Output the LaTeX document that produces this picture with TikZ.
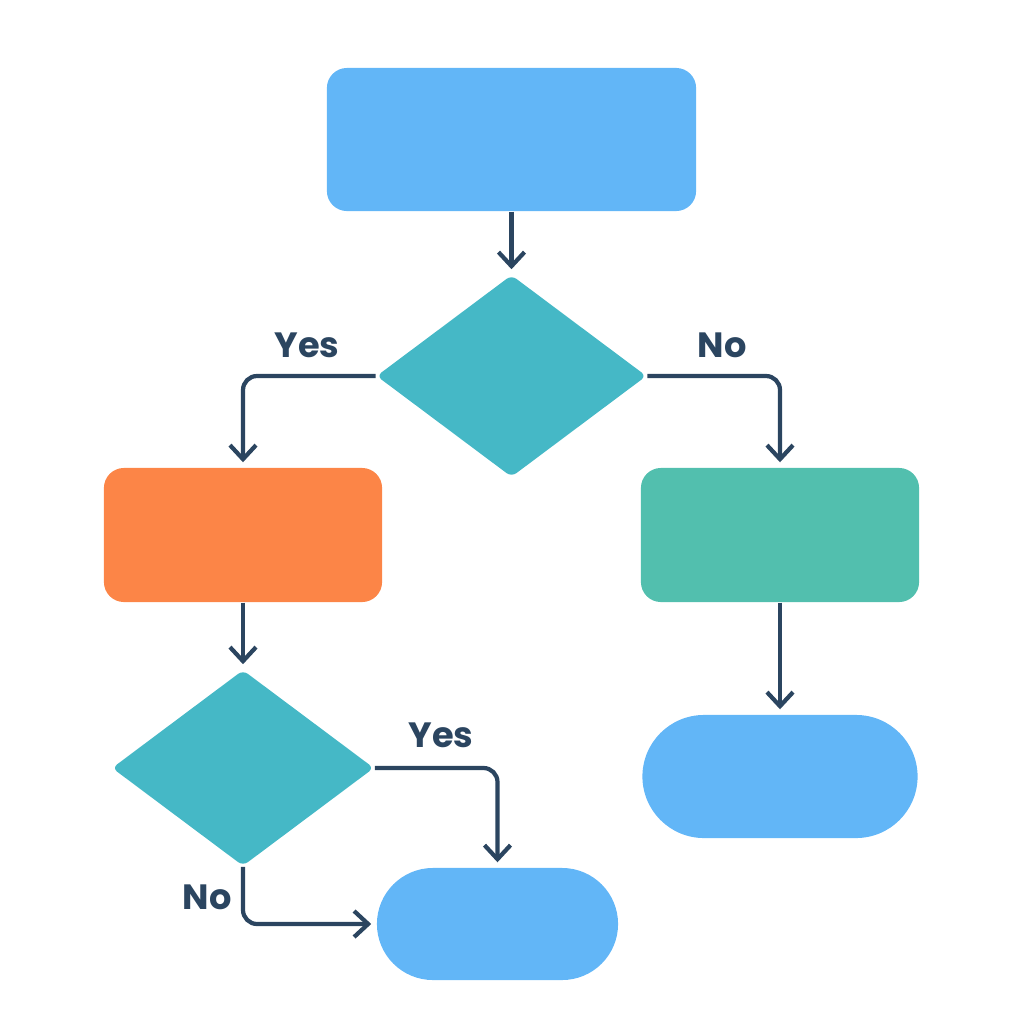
\documentclass[tikz,border=0pt]{standalone}
\usepackage{fontspec}
\setmainfont{Poppins}
\usepackage{tikz}
\usetikzlibrary{arrows.meta,shapes.geometric,shapes.misc,calc}

\definecolor{boxblue}{HTML}{62B6F7}
\definecolor{dteal}{HTML}{45B8C6}
\definecolor{borange}{HTML}{FC8547}
\definecolor{bgreen}{HTML}{52BFAE}
\definecolor{navy}{HTML}{2B4560}

\begin{document}
\begin{tikzpicture}[x=0.01cm, y=-0.01cm, font=\fontsize{10}{12}\selectfont\bfseries]
		\tikzset{box/.style={rectangle, rounded corners=0.2cm, inner sep=0pt, minimum width=2.78cm, minimum height=1.34cm}}
		\tikzset{dec/.style={diamond, fill=dteal, rounded corners=0.06cm, inner sep=0pt}}
		\tikzset{term/.style={rounded rectangle, fill=boxblue, inner sep=0pt}}
		\tikzset{arr/.style={draw=navy, line width=1.2pt, rounded corners=0.14cm, shorten >=0.05cm, -{Straight Barb[length=0.14cm, width=0.26cm, line width=1.2pt]}}}
		\tikzset{lbl/.style={text=navy}}
		\useasboundingbox (0,0) rectangle (1024,1024);
		% top box
		\node[box, fill=boxblue, minimum width=3.69cm, minimum height=1.43cm] (start) at (511.5,139.5) {};
		% first decision
		\node[dec, minimum width=2.7cm, minimum height=2.02cm] (q1) at (511.5,376) {};
		% branches
		\node[box, fill=borange] (left) at (243,535) {};
		\node[box, fill=bgreen] (right) at (780,535) {};
		% second decision
		\node[dec, minimum width=2.62cm, minimum height=1.96cm] (q2) at (243,768) {};
		% end caps
		\node[term, minimum width=2.75cm, minimum height=1.23cm] (endr) at (780,776.5) {};
		\node[term, minimum width=2.41cm, minimum height=1.12cm] (endb) at (497.5,924) {};
		% arrows
		\draw[arr] (start.south) -- (q1.north);
		\draw[arr] (q1.west) -| (left.north);
		\draw[arr] (q1.east) -| (right.north);
		\draw[arr] (left.south) -- (q2.north);
		\draw[arr] (right.south) -- (endr.north);
		\draw[arr] (q2.east) -| (endb.north);
		\draw[arr] (q2.south) |- (endb.west);
		% labels
		\node[lbl] (y1) at (307,345) {Yes};
		\node[lbl] (n1) at (722,345) {No};
		\node[lbl] (y2) at (441,735) {Yes};
		\node[lbl] (n2) at (207,897) {No};
	\end{tikzpicture}
\end{document}
